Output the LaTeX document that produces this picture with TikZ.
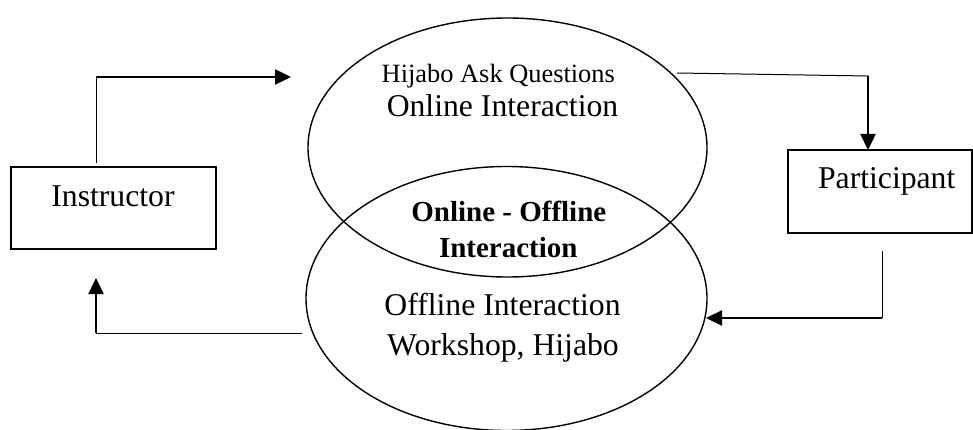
\documentclass[tikz,border=0pt]{standalone}
\usepackage{fontspec}
\setmainfont{Liberation Serif}
\usetikzlibrary{shapes.geometric,arrows.meta}
\begin{document}
\begin{tikzpicture}[x=1pt,y=-1pt,
  oval/.style={draw,ellipse,inner sep=0pt,line width=1.4pt},
  box/.style={draw,rectangle,inner sep=0pt,line width=1.4pt},
  lbl/.style={anchor=base,inner sep=0pt,font=\fontsize{31.7}{36}\selectfont},
  small/.style={anchor=base,inner sep=0pt,font=\fontsize{26.4}{30}\selectfont},
  boldlbl/.style={anchor=base,inner sep=0pt,font=\fontsize{29}{33}\selectfont\bfseries},
  thinline/.style={line width=1pt},
  thickarrow/.style={line width=2.4pt,-{Triangle[length=16pt,width=15pt]}}
]
\useasboundingbox (0,0) rectangle (973,430);
% ellipses
\node[oval,minimum width=399pt,minimum height=259pt] (online) at (507.5,147.5) {};
\node[oval,minimum width=401pt,minimum height=264pt] (offline) at (506.5,298.5) {};
% boxes
\node[box,minimum width=205pt,minimum height=82pt] (instr) at (113.5,208) {};
\node[box,minimum width=184pt,minimum height=83pt] (part) at (880,191.5) {};
% texts
\node[lbl] (tinstr) at (113,207) {Instructor};
\node[lbl] (tpart) at (886.7,189) {Participant};
\node[small] (thijabo) at (498.3,83) {Hijabo Ask Questions};
\node[lbl] (tonline) at (502.5,116.7) {Online Interaction};
\node[boldlbl] (tboth1) at (508.8,221.7) {Online - Offline};
\node[boldlbl] (tboth2) at (508.3,257.3) {Interaction};
\node[lbl] (toffline) at (502.5,315) {Offline Interaction};
\node[lbl] (twork) at (503,355) {Workshop, Hijabo};
% connector coordinates
\coordinate (a0) at (96,163);
\coordinate (a1) at (96,77);
\coordinate (a2) at (291,77);
\coordinate (b0) at (677,73);
\coordinate (b1) at (868,76);
\coordinate (b2) at (868,150);
\coordinate (c0) at (882,251);
\coordinate (c1) at (882,318);
\coordinate (c2) at (706,318);
\coordinate (d0) at (302,333);
\coordinate (d1) at (96,333);
\coordinate (d2) at (96,278);
% connectors
\draw[thinline] (a0) -- (a1);
\draw[thickarrow] (a1) -- (a2);
\draw[thinline] (b0) -- (b1);
\draw[thickarrow] (b1) -- (b2);
\draw[thinline] (c0) -- (c1);
\draw[thickarrow] (c1) -- (c2);
\draw[thinline] (d0) -- (d1);
\draw[thickarrow] (d1) -- (d2);
\end{tikzpicture}
\end{document}
